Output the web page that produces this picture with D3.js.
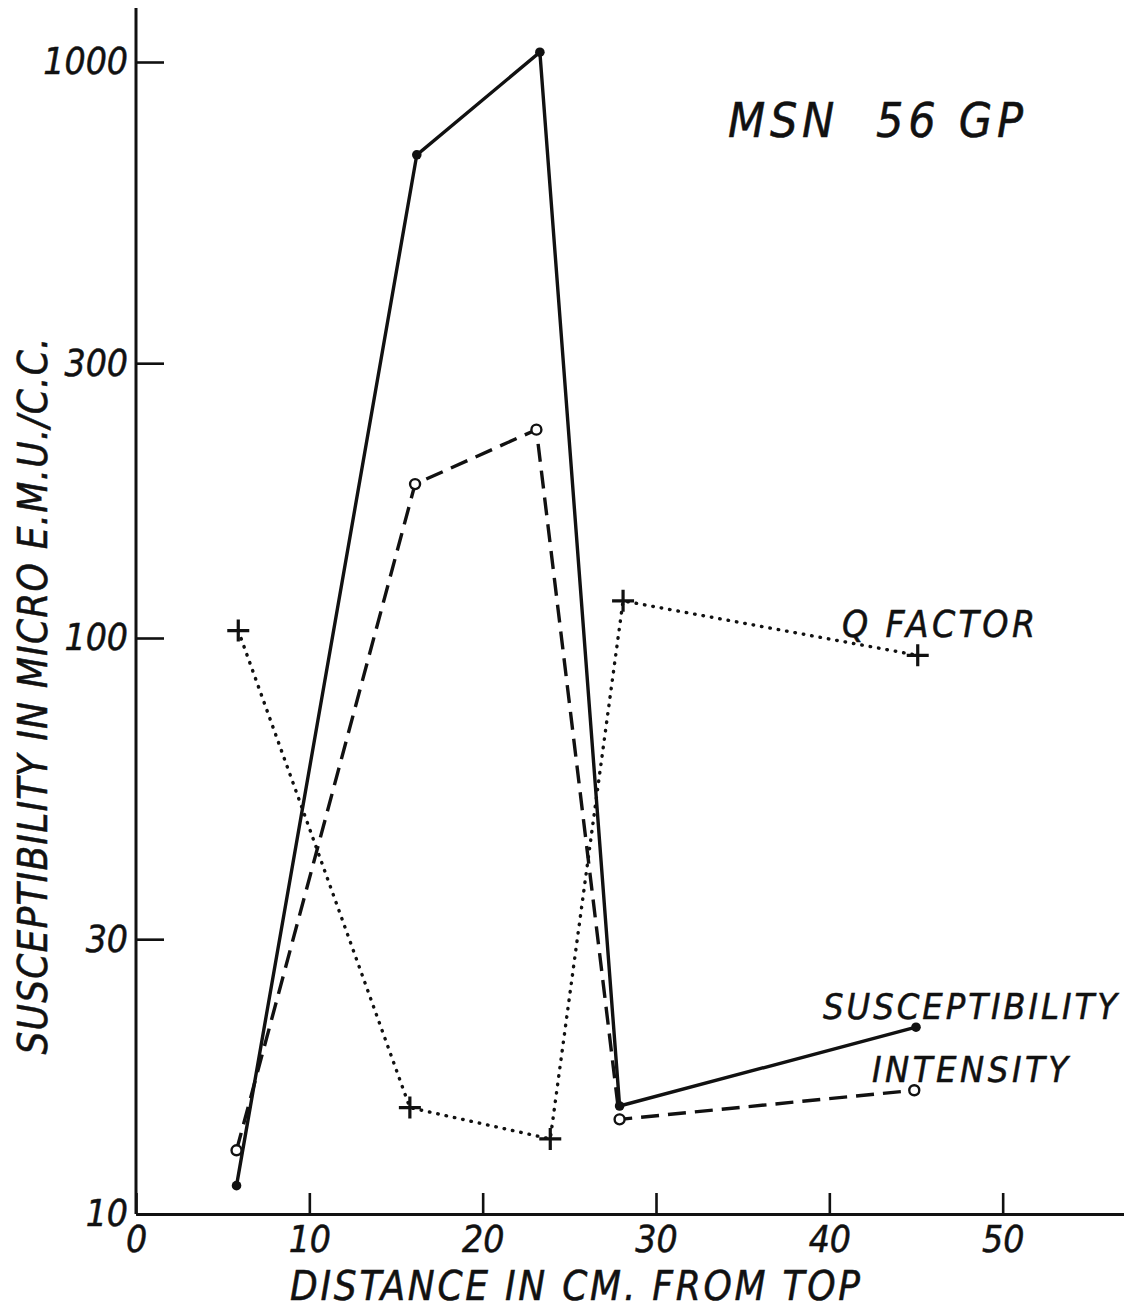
<!DOCTYPE html>
<html>
<head>
<meta charset="utf-8">
<script src="https://cdn.jsdelivr.net/npm/d3@7"></script>
<style>
  html, body { margin: 0; padding: 0; background: #fff; }
  svg { display: block; }
  text {
    font-family: "DejaVu Sans Condensed", "DejaVu Sans", sans-serif;
    font-style: italic;
    fill: #111;
    stroke: #111;
    stroke-width: 0.5px;
  }
</style>
</head>
<body>
<div id="chart"></div>
<script>
// MSN 56 GP - susceptibility, intensity and Q factor vs depth (log y)

const titleText = "MSN  56 GP";
const xTitle = "DISTANCE IN CM. FROM TOP";
const yTitle = "SUSCEPTIBILITY IN MICRO E.M.U./C.C.";

const xTicks = [0, 10, 20, 30, 40, 50];
const yTicks = [10, 30, 100, 300, 1000];

// distance (cm) for each sample
const suscX = [5.8, 16.2, 23.3, 27.9, 45.0];
const suscY = [11.2, 690, 1040, 15.4, 21.1];

const intensX = [5.8, 16.1, 23.1, 27.9, 44.9];
const intensY = [12.9, 185, 230, 14.6, 16.4];

const qX = [5.9, 15.8, 23.9, 28.1, 45.1];
const qY = [103, 15.3, 13.5, 116, 93.3];

const W = 1124, H = 1312;

const svg = d3.select("#chart").append("svg")
    .attr("width", W)
    .attr("height", H);

const x = d3.scaleLinear().domain([0, 57]).range([136, 1124]);
const y = d3.scaleLog().domain([10, 1000]).range([1214, 62]);

// --- axes
const xAxis = d3.axisBottom(x)
    .tickValues(xTicks)
    .tickFormat(d3.format("d"))
    .tickSizeInner(-21)
    .tickSizeOuter(0)
    .tickPadding(12);

const gx = svg.append("g")
    .attr("transform", `translate(0,${y(10)})`)
    .call(xAxis);
gx.select(".domain").attr("stroke", "#111").attr("stroke-width", 3);
gx.selectAll(".tick line").attr("stroke", "#111").attr("stroke-width", 2.6);
gx.selectAll(".tick text")
    .attr("font-size", 37)
    .attr("fill", "#111")
    .attr("font-family", null);

const yAxis = d3.axisLeft(y)
    .tickValues(yTicks)
    .tickFormat(d3.format("d"))
    .tickSizeInner(-28)
    .tickSizeOuter(0)
    .tickPadding(8);

const gy = svg.append("g")
    .attr("transform", `translate(${x(0)},0)`)
    .call(yAxis);
gy.select(".domain").remove();
gy.selectAll(".tick line").attr("stroke", "#111").attr("stroke-width", 2.6);
gy.selectAll(".tick text")
    .attr("font-size", 37)
    .attr("fill", "#111")
    .attr("font-family", null);

// y axis line runs above the top tick
svg.append("line")
    .attr("x1", x(0)).attr("x2", x(0))
    .attr("y1", y(10)).attr("y2", 8)
    .attr("stroke", "#111")
    .attr("stroke-width", 3);

// --- axis titles
svg.append("text")
    .attr("x", 575)
    .attr("y", 1300)
    .attr("text-anchor", "middle")
    .attr("font-size", 40)
    .attr("textLength", 570)
    .attr("lengthAdjust", "spacing")
    .text(xTitle);

svg.append("text")
    .attr("transform", "translate(47,696) rotate(-90)")
    .attr("text-anchor", "middle")
    .attr("font-size", 40)
    .attr("textLength", 717)
    .attr("lengthAdjust", "spacing")
    .text(yTitle);

svg.append("text")
    .attr("x", 728)
    .attr("y", 137)
    .attr("font-size", 48)
    .attr("textLength", 295)
    .attr("lengthAdjust", "spacing")
    .style("white-space", "pre")
    .text(titleText);

// --- series
const line = d3.line()
    .x(d => x(d[0]))
    .y(d => y(d[1]));

const susc = d3.zip(suscX, suscY);
const intens = d3.zip(intensX, intensY);
const qf = d3.zip(qX, qY);

svg.append("path")
    .datum(qf)
    .attr("d", line)
    .attr("fill", "none")
    .attr("stroke", "#111")
    .attr("stroke-width", 3.4)
    .attr("stroke-linecap", "round")
    .attr("stroke-dasharray", "0.5 8");

svg.append("path")
    .datum(intens)
    .attr("d", line)
    .attr("fill", "none")
    .attr("stroke", "#111")
    .attr("stroke-width", 3.4)
    .attr("stroke-dasharray", "18 9");

svg.append("path")
    .datum(susc)
    .attr("d", line)
    .attr("fill", "none")
    .attr("stroke", "#111")
    .attr("stroke-width", 3.4);

// markers
svg.selectAll(".dot")
    .data(susc)
    .enter().append("circle")
    .attr("class", "dot")
    .attr("cx", d => x(d[0]))
    .attr("cy", d => y(d[1]))
    .attr("r", 4.8)
    .attr("fill", "#111");

svg.selectAll(".ring")
    .data(intens)
    .enter().append("circle")
    .attr("class", "ring")
    .attr("cx", d => x(d[0]))
    .attr("cy", d => y(d[1]))
    .attr("r", 5)
    .attr("fill", "#fff")
    .attr("stroke", "#111")
    .attr("stroke-width", 2.4);

svg.selectAll(".plus")
    .data(qf)
    .enter().append("path")
    .attr("class", "plus")
    .attr("d", d => {
        const cx = x(d[0]), cy = y(d[1]), s = 11;
        return `M${cx - s},${cy}H${cx + s}M${cx},${cy - s}V${cy + s}`;
    })
    .attr("stroke", "#111")
    .attr("stroke-width", 3.2);

// --- series labels
svg.append("text")
    .attr("x", 842).attr("y", 637)
    .attr("font-size", 37)
    .attr("textLength", 193)
    .attr("lengthAdjust", "spacing")
    .text("Q FACTOR");

svg.append("text")
    .attr("x", 823).attr("y", 1019)
    .attr("font-size", 36)
    .attr("textLength", 294)
    .attr("lengthAdjust", "spacing")
    .text("SUSCEPTIBILITY");

svg.append("text")
    .attr("x", 872).attr("y", 1082)
    .attr("font-size", 36)
    .attr("textLength", 196)
    .attr("lengthAdjust", "spacing")
    .text("INTENSITY");
</script>
</body>
</html>
